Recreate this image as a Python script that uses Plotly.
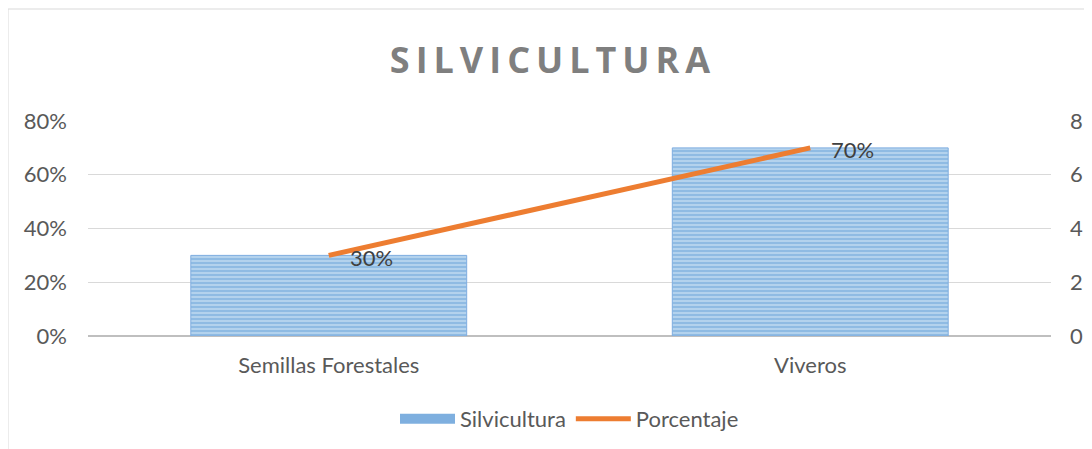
import plotly.graph_objects as go

categories = ["Semillas Forestales", "Viveros"]
silvicultura = [3, 7]
porcentaje = [0.30, 0.70]
porcentaje_labels = ["30%", "70%"]
left_ticks = [0, 0.2, 0.4, 0.6, 0.8]
right_ticks = [0, 2, 4, 6, 8]

FONT = "Lato"
GRAY = "#595959"
FS = 22

fig = go.Figure()
fig.add_trace(go.Bar(
    x=categories, y=silvicultura, name="Silvicultura", yaxis="y",
    width=0.573, showlegend=False,
    marker=dict(color="#B4D1EE", line=dict(color="#7FADE0", width=1),
                pattern=dict(shape="-", fgcolor="#5B9BD5", bgcolor="#C2DAF1",
                             size=4, solidity=0.65)),
))
# legend swatch for the bar series
fig.add_trace(go.Scatter(
    x=[None], y=[None], name="Silvicultura", mode="lines", yaxis="y",
    line=dict(color="#7EAFDF", width=12),
))
fig.add_trace(go.Scatter(
    x=categories, y=porcentaje, name="Porcentaje", yaxis="y2",
    mode="lines", line=dict(color="#ED7D31", width=5),
))
for c, v, t in zip(categories, porcentaje, porcentaje_labels):
    fig.add_annotation(x=c, y=v, yref="y2", text=t, showarrow=False,
                       xanchor="left", yanchor="middle", xshift=19, yshift=-2,
                       font=dict(family=FONT, size=FS, color="#404040"))

W, H = 1084, 441
L, R, T, B = 80, 41, 113, 113
PW, PH = W - L - R, H - T - B

fig.update_layout(
    width=W, height=H,
    margin=dict(l=L, r=R, t=T, b=B, autoexpand=False),
    paper_bgcolor="white", plot_bgcolor="white",
    title=dict(text="\u2009".join("SILVICULTURA"),
               x=0.5, xanchor="center", y=1 - 52 / H, yanchor="middle",
               font=dict(family="Open Sans", size=36, color="#7F7F7F", weight="bold")),
    xaxis=dict(showgrid=False, showline=False, ticks="", ticklabelstandoff=14,
               tickfont=dict(family=FONT, size=FS, color=GRAY)),
    yaxis=dict(range=[0, 8], tickvals=right_ticks, side="right",
               showgrid=True, gridcolor="#D9D9D9", gridwidth=1,
               zeroline=True, zerolinecolor="#BFBFBF", zerolinewidth=2,
               showline=False, ticklabelstandoff=18,
               tickfont=dict(family=FONT, size=FS, color=GRAY)),
    yaxis2=dict(range=[0, 0.8], tickvals=left_ticks, tickformat=".0%",
                overlaying="y", side="left",
                showgrid=False, zeroline=False, showline=False, ticklabelstandoff=20,
                tickfont=dict(family=FONT, size=FS, color=GRAY)),
    legend=dict(orientation="h", x=0.5, xanchor="center", y=-(411 - 328) / PH,
                yanchor="middle", font=dict(family=FONT, size=FS, color=GRAY),
                itemwidth=55, traceorder="normal"),
    showlegend=True,
)
fig.add_shape(type="rect", xref="paper", yref="paper",
              x0=-(L - 0) / PW, x1=(W - L + 20) / PW, y0=-(B + 20) / PH,
              y1=(PH + T - 1) / PH,
              line=dict(color="#D9D9D9", width=1), fillcolor="rgba(0,0,0,0)",
              layer="below")

fig.write_html("out.html")
